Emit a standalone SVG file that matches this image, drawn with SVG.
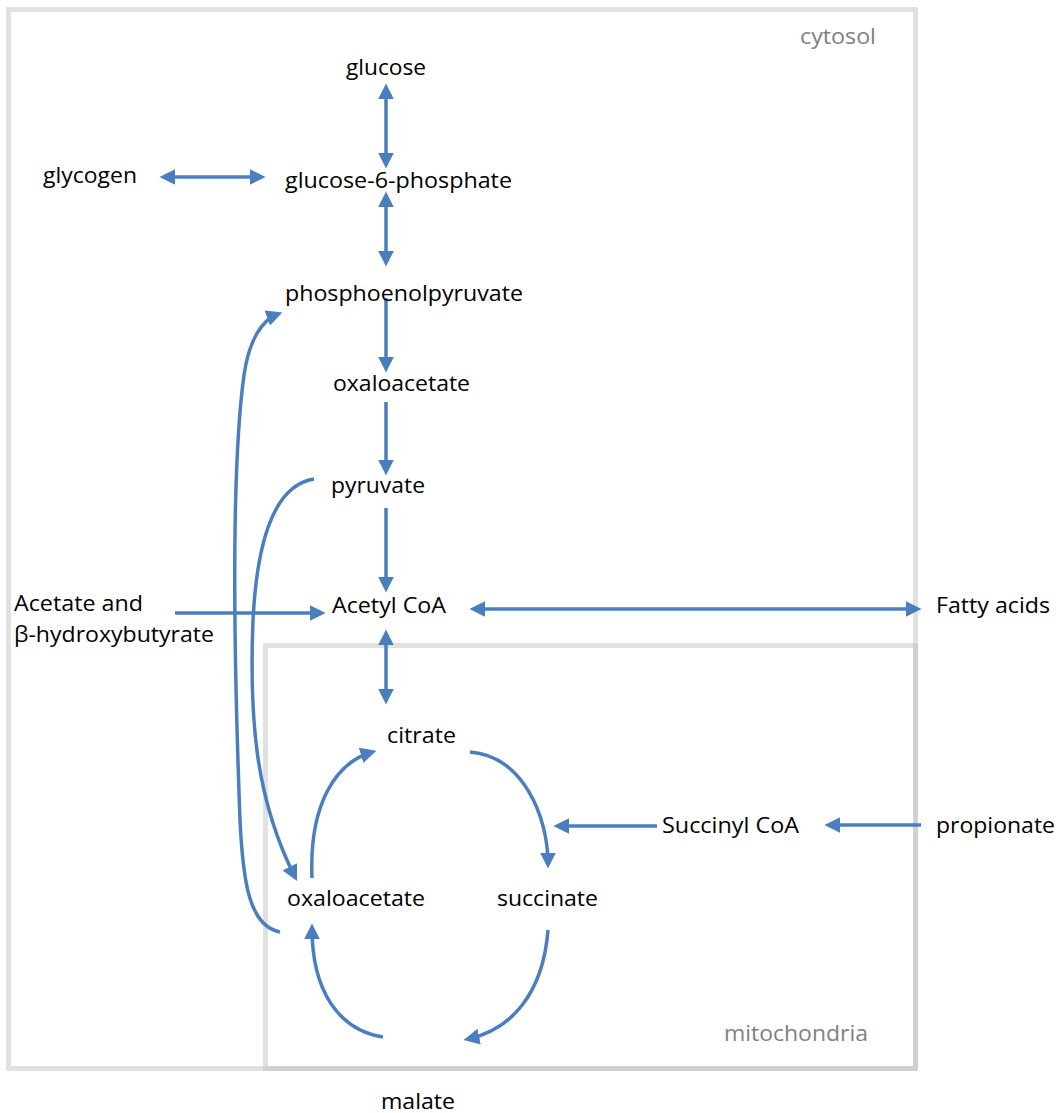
<svg xmlns="http://www.w3.org/2000/svg" width="1058" height="1113" viewBox="0 0 1058 1113">
<style>
.t{font-family:"Open Sans","Noto Sans","Liberation Sans",sans-serif;font-size:22px;fill:#000}
.g{font-family:"Open Sans","Noto Sans","Liberation Sans",sans-serif;font-size:22px;fill:#808080}
.box{fill:none;stroke:#bcbcbc;stroke-opacity:0.45;stroke-width:5}
.c{fill:none;stroke:#4a7ebf;stroke-width:3.5}
.e{marker-end:url(#ah)}
.b{marker-start:url(#ah);marker-end:url(#ah)}
</style>
<defs>
<marker id="ah" markerUnits="userSpaceOnUse" markerWidth="16" markerHeight="16" viewBox="0 0 14 14" refX="10" refY="7" orient="auto-start-reverse">
<path d="M0,0 L14,7 L0,14 z" fill="#4a7ebf"/>
</marker>
</defs>
<rect width="1058" height="1113" fill="#fff"/>
<g id="cytosol">
<rect class="box" x="8.5" y="9.5" width="907" height="1059"/>
<text class="g" x="800" y="44" textLength="76" lengthAdjust="spacingAndGlyphs">cytosol</text>
</g>
<g id="mitochondria">
<rect class="box" x="265.5" y="645.5" width="650" height="423"/>
<text class="g" x="724" y="1041" textLength="144" lengthAdjust="spacingAndGlyphs">mitochondria</text>
</g>
<g id="connectors">
<line class="c b" x1="386" y1="88" x2="386" y2="164"/>
<line class="c b" x1="164" y1="177" x2="261" y2="177"/>
<line class="c b" x1="386" y1="196" x2="386" y2="262"/>
<line class="c e" x1="386" y1="298" x2="386" y2="368"/>
<line class="c e" x1="386" y1="402" x2="386" y2="471"/>
<line class="c e" x1="386" y1="508" x2="386" y2="588"/>
<line class="c e" x1="175" y1="613" x2="321" y2="613"/>
<line class="c b" x1="474" y1="609" x2="917" y2="609"/>
<line class="c b" x1="386" y1="634" x2="386" y2="700"/>
<line class="c e" x1="657" y1="826" x2="558" y2="826"/>
<line class="c e" x1="921" y1="825" x2="829" y2="825"/>
<path class="c e" d="M312,878 C309,805 335,763 372,752"/>
<path class="c e" d="M470,752 C522,756 548,815 548,864"/>
<path class="c e" d="M548,930 C543,995 510,1030 468,1039"/>
<path class="c e" d="M383,1037 C338,1030 312,990 312,928"/>
<path class="c e" d="M314,479 C275,485 257,540 253,620 C249,720 256,800 295,877"/>
<path class="c e" d="M280,932 C250,926 243,885 240,820 C234,660 231,470 244,375 C249,340 262,320 278,314"/>
</g>
<g id="glucose"><text class="t" x="346" y="75" textLength="80" lengthAdjust="spacingAndGlyphs">glucose</text></g>
<g id="glycogen"><text class="t" x="43" y="183" textLength="94" lengthAdjust="spacingAndGlyphs">glycogen</text></g>
<g id="g6p"><text class="t" x="285" y="188" textLength="227" lengthAdjust="spacingAndGlyphs">glucose-6-phosphate</text></g>
<g id="pep"><text class="t" x="285" y="301" textLength="238" lengthAdjust="spacingAndGlyphs">phosphoenolpyruvate</text></g>
<g id="oaa-cyto"><text class="t" x="333" y="391" textLength="137" lengthAdjust="spacingAndGlyphs">oxaloacetate</text></g>
<g id="pyruvate"><text class="t" x="331" y="493" textLength="94" lengthAdjust="spacingAndGlyphs">pyruvate</text></g>
<g id="acetate"><text class="t" x="14" y="611" textLength="129" lengthAdjust="spacingAndGlyphs">Acetate and</text><text class="t" x="14" y="642" textLength="200" lengthAdjust="spacingAndGlyphs">β-hydroxybutyrate</text></g>
<g id="acetylcoa"><text class="t" x="332" y="613" textLength="114" lengthAdjust="spacingAndGlyphs">Acetyl CoA</text></g>
<g id="fatty"><text class="t" x="936" y="613" textLength="114" lengthAdjust="spacingAndGlyphs">Fatty acids</text></g>
<g id="citrate"><text class="t" x="387" y="743" textLength="69" lengthAdjust="spacingAndGlyphs">citrate</text></g>
<g id="succinylcoa"><text class="t" x="662" y="833" textLength="137" lengthAdjust="spacingAndGlyphs">Succinyl CoA</text></g>
<g id="propionate"><text class="t" x="936" y="833" textLength="119" lengthAdjust="spacingAndGlyphs">propionate</text></g>
<g id="oaa-mito"><text class="t" x="287" y="906" textLength="138" lengthAdjust="spacingAndGlyphs">oxaloacetate</text></g>
<g id="succinate"><text class="t" x="497" y="906" textLength="101" lengthAdjust="spacingAndGlyphs">succinate</text></g>
<g id="malate"><text class="t" x="381" y="1109" textLength="74" lengthAdjust="spacingAndGlyphs">malate</text></g>
</svg>
